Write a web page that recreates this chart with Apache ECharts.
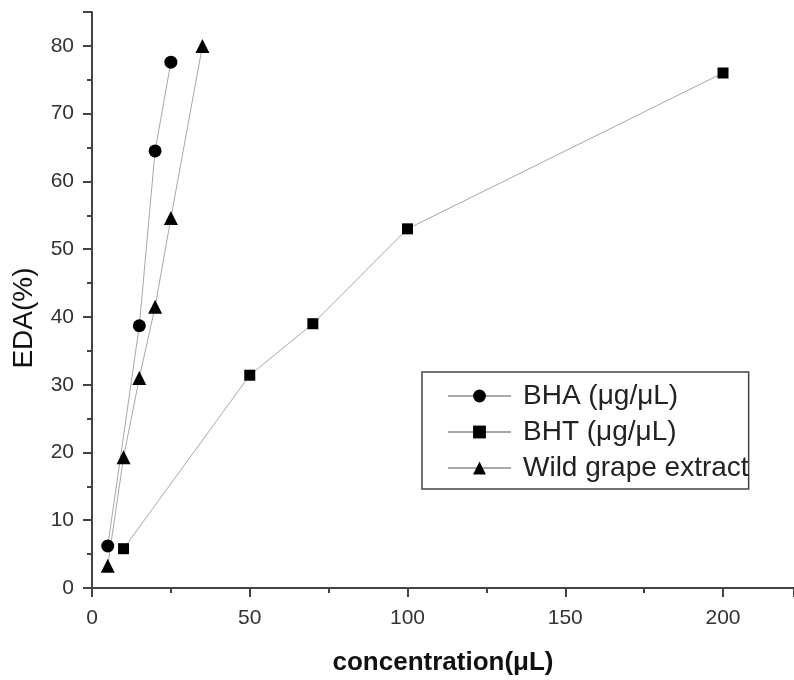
<!DOCTYPE html>
<html>
<head>
<meta charset="utf-8">
<script src="https://cdn.jsdelivr.net/npm/echarts@6/dist/echarts.min.js"></script>
<style>html,body{margin:0;padding:0;background:#fff}#c{width:794px;height:680px}</style>
</head>
<body>
<div id="c"></div>
<script>
const seriesNames = ['BHA (\u03bcg/\u03bcL)', 'BHT (\u03bcg/\u03bcL)', 'Wild grape extract'];
const bhaX = [5, 15, 20, 25];
const bhaY = [6.2, 38.7, 64.5, 77.6];
const bhtX = [10, 50, 70, 100, 200];
const bhtY = [5.8, 31.4, 39.0, 53.0, 76.0];
const wildX = [5, 10, 15, 20, 25, 35];
const wildY = [3.3, 19.3, 31.0, 41.5, 54.6, 80.0];
const xTicks = [0, 50, 100, 150, 200];
const yTicks = [0, 10, 20, 30, 40, 50, 60, 70, 80];

function zip(xs, ys) { return xs.map((x, i) => [x, ys[i]]); }

const chart = echarts.init(document.getElementById('c'), null, {renderer: 'canvas'});
const axisColor = '#444';
const font = 'Liberation Sans, Arial, sans-serif';
const lineCol = '#a8a8a8';

function mkSeries(name, data, symbol, size) {
  return {
    name: name, type: 'line', data: data, symbol: symbol, symbolSize: size,
    showAllSymbol: true,
    lineStyle: {color: lineCol, width: 1},
    itemStyle: {color: '#000'},
    emphasis: {disabled: true},
    animation: false
  };
}

chart.setOption({
  animation: false,
  backgroundColor: '#fff',
  grid: {left: 92, top: 12, right: 0, bottom: 92, containLabel: false, outerBoundsMode: 'none'},
  xAxis: {
    type: 'value', min: 0, max: 222.5, interval: 50,
    name: 'concentration(\u03bcL)', nameLocation: 'middle', nameGap: 62,
    nameTextStyle: {fontFamily: font, fontSize: 26, fontWeight: 'bold', color: '#111'},
    axisLine: {onZero: false, lineStyle: {color: axisColor, width: 2}},
    axisTick: {length: 9, lineStyle: {color: axisColor, width: 2}},
    minorTick: {show: true, splitNumber: 2, length: 5, lineStyle: {color: axisColor, width: 2}},
    axisLabel: {fontFamily: font, fontSize: 21, color: '#333', margin: 20, showMaxLabel: false,
      formatter: v => xTicks.indexOf(v) >= 0 ? String(v) : ''},
    splitLine: {show: false}
  },
  yAxis: {
    type: 'value', min: 0, max: 85, interval: 10,
    name: 'EDA(%)', nameLocation: 'middle', nameGap: 54,
    nameTextStyle: {fontFamily: font, fontSize: 28, color: '#111', padding: [0, 36, 0, 0]},
    axisLine: {onZero: false, lineStyle: {color: axisColor, width: 2}},
    axisTick: {length: 9, lineStyle: {color: axisColor, width: 2}},
    minorTick: {show: true, splitNumber: 2, length: 5, lineStyle: {color: axisColor, width: 2}},
    axisLabel: {fontFamily: font, fontSize: 21, color: '#333', margin: 18, showMaxLabel: false,
      formatter: v => yTicks.indexOf(v) >= 0 ? String(v) : ''},
    splitLine: {show: false}
  },
  legend: {
    orient: 'vertical', left: 422, top: 372,
    data: seriesNames,
    itemWidth: 63, itemHeight: 16, itemGap: 8,
    padding: [10, 0, 7, 25],
    borderColor: axisColor, borderWidth: 1.5,
    textStyle: {fontFamily: font, fontSize: 28, lineHeight: 26, color: '#222', padding: [0, 0, 0, 7]},
    selectedMode: false
  },
  series: [
    mkSeries(seriesNames[0], zip(bhaX, bhaY), 'circle', 13),
    mkSeries(seriesNames[1], zip(bhtX, bhtY), 'rect', 11),
    mkSeries(seriesNames[2], zip(wildX, wildY), 'triangle', 14)
  ]
});
</script>
</body>
</html>
